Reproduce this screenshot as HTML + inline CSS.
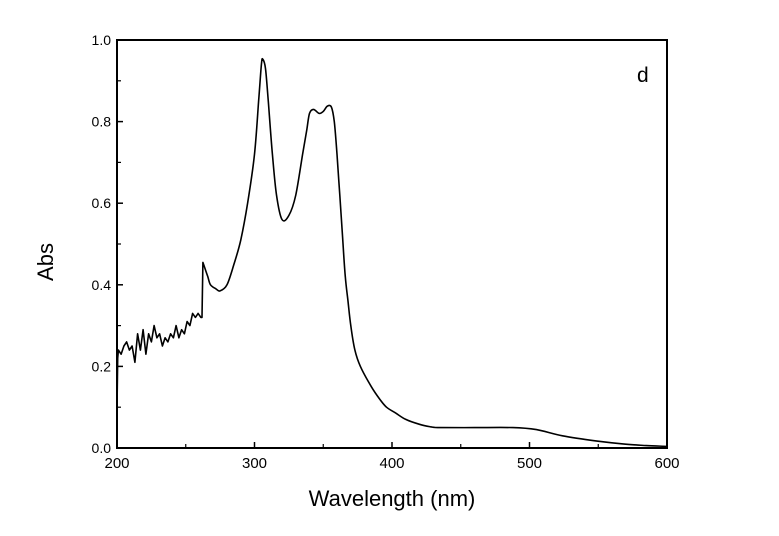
<!DOCTYPE html>
<html><head><meta charset="utf-8"><style>
body{margin:0;background:#fff;}
svg{display:block;font-family:"Liberation Sans",Arial,sans-serif;}
</style></head><body>
<svg id="chart" width="779" height="536" viewBox="0 0 779 536">
<g id="axes"></g>
<path id="curve" fill="none" stroke="#000" stroke-width="1.6" stroke-linejoin="round"/>
<rect x="117" y="40" width="550" height="408" fill="none" stroke="#000" stroke-width="2"/>
<text x="637" y="82" font-size="21">d</text>
<text x="392" y="506" font-size="22" text-anchor="middle">Wavelength (nm)</text>
<text transform="translate(53,262) rotate(-90)" font-size="22" text-anchor="middle">Abs</text>
</svg>
<script>
const wavelengths = [200,200.5,201,203,205,207,209,211,213,215,217,219,221,223,225,227,229,231,233,235,237,239,241,243,245,247,249,251,253,255,257,259,261,261.8,262.5,264,266,268,272,275,280,285,290,295,300,303,305,306,308,310,313,316,320,325,330,335,338,340,343,347,350,353,356,358,360,362,364,366,368,370,373,377,385,391,396,403,410,420,428,435,460,488,505,524,549,568,585,600];
const absValues = [0.10,0.22,0.24,0.23,0.25,0.26,0.24,0.25,0.21,0.28,0.24,0.29,0.23,0.28,0.26,0.30,0.27,0.28,0.25,0.27,0.26,0.28,0.27,0.30,0.27,0.29,0.28,0.31,0.30,0.33,0.32,0.33,0.32,0.32,0.455,0.44,0.42,0.40,0.39,0.385,0.40,0.45,0.51,0.60,0.72,0.85,0.94,0.953,0.93,0.85,0.72,0.62,0.56,0.57,0.62,0.72,0.78,0.82,0.83,0.82,0.825,0.838,0.835,0.80,0.72,0.62,0.52,0.42,0.36,0.30,0.24,0.20,0.15,0.12,0.10,0.085,0.07,0.058,0.052,0.05,0.05,0.05,0.045,0.03,0.017,0.01,0.006,0.004];
const xTicks = [200,300,400,500,600];
const yTicks = [0.0,0.2,0.4,0.6,0.8,1.0];
const xMin=200,xMax=600,yMin=0,yMax=1;
const L=117,R=667,T=40,B=448;
function xs(v){return L+(v-xMin)/(xMax-xMin)*(R-L);}
function ys(v){return B-(v-yMin)/(yMax-yMin)*(B-T);}
const NS='http://www.w3.org/2000/svg';
const axes=document.getElementById('axes');
function mk(tag,attrs){const e=document.createElementNS(NS,tag);for(const k in attrs)e.setAttribute(k,attrs[k]);return e;}
xTicks.forEach(t=>{
  const l=mk('line',{x1:xs(t),x2:xs(t),y1:B,y2:B-6,stroke:'#000','stroke-width':1.5});
  
  
  axes.appendChild(l);
  const tx=mk('text',{x:xs(t),y:B+20,'font-size':15,'text-anchor':'middle'});
  
  
  tx.textContent=t;axes.appendChild(tx);
});
for(let i=0;i<xTicks.length-1;i++){
  const m=(xTicks[i]+xTicks[i+1])/2;
  const l=mk('line',{x1:xs(m),x2:xs(m),y1:B,y2:B-4,stroke:'#000','stroke-width':1.2});
  
  
  axes.appendChild(l);
}
yTicks.forEach(t=>{
  const l=mk('line',{x1:L,x2:L+6,y1:ys(t),y2:ys(t),stroke:'#000','stroke-width':1.5});
  
  
  axes.appendChild(l);
  const tx=mk('text',{x:L-6,y:ys(t)+5,'font-size':14,'text-anchor':'end'});
  
  
  tx.textContent=t.toFixed(1);axes.appendChild(tx);
});
for(let i=0;i<yTicks.length-1;i++){
  const m=(yTicks[i]+yTicks[i+1])/2;
  const l=mk('line',{x1:L,x2:L+4,y1:ys(m),y2:ys(m),stroke:'#000','stroke-width':1.2});
  
  
  axes.appendChild(l);
}
const pts=wavelengths.map((w,i)=>[xs(w),ys(absValues[i])]);
let d='M'+pts[0][0].toFixed(1)+','+pts[0][1].toFixed(1);
for(let i=1;i<pts.length;i++){
  if(wavelengths[i]<=262.5){d+=' L'+pts[i][0].toFixed(1)+','+pts[i][1].toFixed(1);continue;}
  const p0=pts[Math.max(i-2,0)],p1=pts[i-1],p2=pts[i],p3=pts[Math.min(i+1,pts.length-1)];
  const f=wavelengths[i-1]<=262.5?0:1/6;
  const c1=[p1[0]+(p2[0]-p0[0])*f,p1[1]+(p2[1]-p0[1])*f];
  const c2=[p2[0]-(p3[0]-p1[0])/6,p2[1]-(p3[1]-p1[1])/6];
  d+=' C'+c1.map(v=>v.toFixed(1)).join(',')+' '+c2.map(v=>v.toFixed(1)).join(',')+' '+p2.map(v=>v.toFixed(1)).join(',');
}
document.getElementById('curve').setAttribute('d',d);
</script>
</body></html>
